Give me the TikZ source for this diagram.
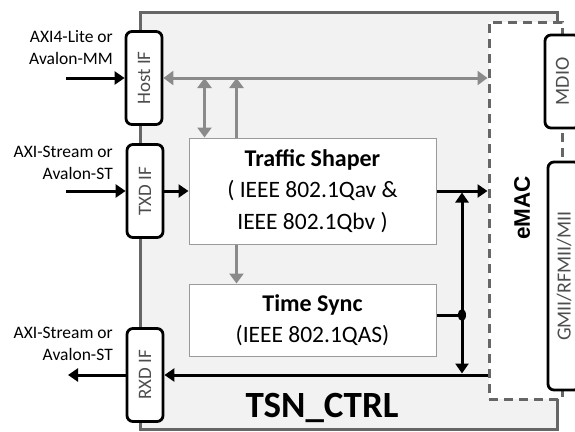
\documentclass[tikz,border=0pt]{standalone}
\usepackage{fontspec}
\setmainfont{Carlito}
\newfontfamily\arialfont{Liberation Sans}
\usetikzlibrary{calc, positioning, arrows.meta, shapes.geometric}

\definecolor{tsnfill}{HTML}{F2F2F2}
\definecolor{framegray}{HTML}{666666}
\definecolor{busgray}{HTML}{8A8A8A}
\definecolor{blockgray}{HTML}{9A9A9A}
\definecolor{labelgray}{HTML}{4D4D4D}

\begin{document}
\begin{tikzpicture}
  [x=1pt, y=-1pt,
   ifbox/.style={draw=black, line width=2.8pt, rounded corners=6pt, fill=white,
     minimum width=36pt, minimum height=93pt, inner sep=0pt, text=labelgray,
     font=\fontsize{19}{19}\selectfont},
   block/.style={draw=blockgray, line width=1pt, fill=white, minimum width=247pt,
     align=center, inner sep=0pt, font=\fontsize{23.5}{31.5}\selectfont},
   side/.style={align=right, anchor=east, inner sep=0pt,
     font=\fontsize{17.5}{22}\selectfont},
   bus/.style={draw=busgray, line width=3pt, -{Triangle[length=10pt,width=14pt]}},
   data/.style={draw=black, line width=3pt, -{Triangle[length=10pt,width=13pt]}}]
  \useasboundingbox (0,0) rectangle (575,431);
  \clip (0,0) rectangle (575,431);

  % frames %
  \node[draw=framegray, line width=3pt, fill=tsnfill, minimum width=417pt,
    minimum height=417pt, inner sep=0pt] (tsn) at (348.5,220.5) {};
  \node[draw=framegray, line width=3pt, dash pattern=on 9pt off 6pt, fill=white,
    minimum width=73pt, minimum height=377pt, inner sep=0pt] (emac) at (525.5,210.5) {};
  \node[font=\arialfont\bfseries\fontsize{22.5}{22.5}\selectfont] (emaclbl) at (522,208)
    {\rotatebox{90}{eMAC}};
  \node[anchor=base, inner sep=0pt, font=\bfseries\fontsize{37}{37}\selectfont] (tsnlbl)
    at (322,417) {TSN\_CTRL};

  % interfaces %
  \node[ifbox] (host) at (144,78) {\rotatebox{90}{Host IF}};
  \node[ifbox] (txd) at (145,191) {\rotatebox{90}{TXD IF}};
  \node[ifbox] (rxd) at (145,375) {\rotatebox{90}{RXD IF}};
  \node[ifbox, minimum width=35pt, font=\fontsize{20}{20}\selectfont] (mdio)
    at (562.5,81.5) {\rotatebox{90}{MDIO}};
  \node[ifbox, minimum width=32pt, minimum height=228pt, font=\fontsize{20}{20}\selectfont]
    (gmii) at (564,276) {\rotatebox{90}{GMII/RFMII/MII}};

  % blocks %
  \node[block, minimum height=106pt] (ts) at (312.5,191)
    {\textbf{\fontsize{24}{31.5}\selectfont Traffic Shaper}\\( IEEE 802.1Qav \&\\IEEE 802.1Qbv )};
  \node[block, minimum height=72pt, below=39pt of ts] (sync)
    {\textbf{\fontsize{24}{31.5}\selectfont Time Sync}\\(IEEE 802.1QAS)};

  % side labels %
  \node[side] (hostlbl) at (113,48) {AXI4-Lite or\\Avalon-MM};
  \node[side] (txdlbl) at (113,163) {AXI-Stream or\\Avalon-ST};
  \node[side] (rxdlbl) at (113,344) {AXI-Stream or\\Avalon-ST};
  \coordinate (hostin) at (66,78);
  \coordinate (txdin) at (66,191);
  \coordinate (rxdout) at (68,375);

  % edges %
  \draw[bus, {Triangle[length=10pt,width=14pt]}-{Triangle[length=10pt,width=14pt]}]
    (host.east) -- (host.east -| emac.west);
  \coordinate (tsa) at ($(ts.north west)+(16,0)$);
  \coordinate (tsb) at ($(ts.north west)+(48,0)$);
  \draw[bus, {Triangle[length=10pt,width=14pt]}-{Triangle[length=10pt,width=14pt]}]
    (tsa |- host.east) -- (tsa);
  \draw[bus] (tsb) -- (tsb |- host.east);
  \draw[bus] (tsb |- ts.south) -- (tsb |- sync.north);

  \draw[data] (hostin) -- (host.west);
  \draw[data] (txdin) -- (txd.west);
  \draw[data] (rxd.west) -- (rxdout);
  \draw[data] (txd.east) -- (ts.west);
  \draw[data] (ts.east) -- (ts.east -| emac.west);
  \draw[data] (rxd.east -| emac.west) -- (rxd.east);
  \coordinate (jn) at (462,315);
  \draw[data, {Triangle[length=10pt,width=13pt]}-{Triangle[length=10pt,width=13pt]}]
    ($(jn |- ts.east)+(0,1.5)$) -- ($(jn |- rxd.east)+(0,-1.5)$);
  \draw[line width=3pt] (sync.east |- jn) -- (jn);
  \node[ellipse, fill=black, minimum width=8pt, minimum height=12pt, inner sep=0pt]
    (dot) at (jn) {};
\end{tikzpicture}
\end{document}
